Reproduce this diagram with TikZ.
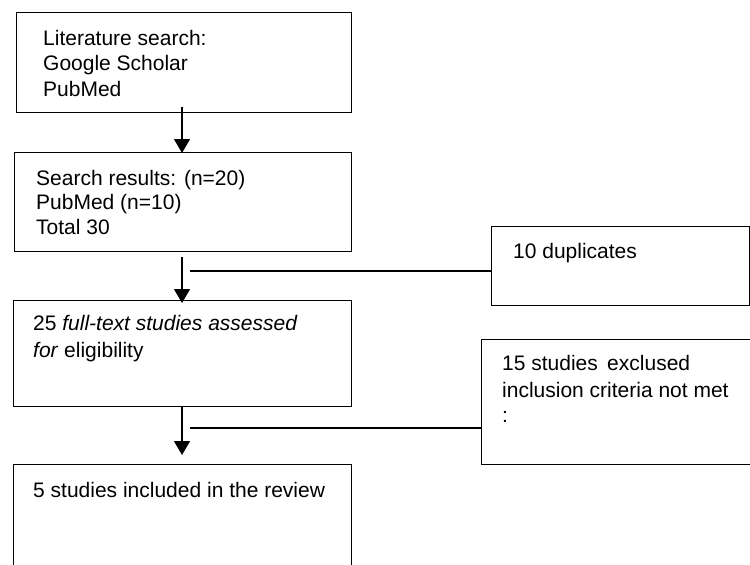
\documentclass[tikz,border=0pt]{standalone}
\usepackage{fontspec}
\setmainfont{Liberation Sans}
\usetikzlibrary{arrows.meta}
\newcommand{\mylines}[1]{\begin{tabular}[t]{@{}l@{}}#1\end{tabular}}
\tikzset{
  boxline/.style={draw=black, line width=1.3pt},
  txt/.style={anchor=base west, inner sep=0pt, font=\fontsize{21}{25.5}\selectfont},
  arr/.style={line width=1.3pt, -{Triangle[width=16pt,length=14pt]}},
  sideline/.style={line width=1.3pt},
}
\begin{document}
\begin{tikzpicture}[x=1pt,y=-1pt]
\useasboundingbox (0,0) rectangle (750,565);
\clip (0,0) rectangle (750,565);
% main boxes
\node[boxline, inner sep=0pt, minimum width=335pt, minimum height=100pt, anchor=north west] (b1) at (16,12) {};
\node[boxline, inner sep=0pt, minimum width=337pt, minimum height=99pt, anchor=north west] (b2) at (14,152) {};
\node[boxline, inner sep=0pt, minimum width=338pt, minimum height=106pt, anchor=north west] (b3) at (13,300) {};
\node[boxline, inner sep=0pt, minimum width=338pt, minimum height=120pt, anchor=north west] (b4) at (13,464) {};
% side boxes
\node[boxline, inner sep=0pt, minimum width=258pt, minimum height=79pt, anchor=north west] (dup) at (491,226) {};
\node[boxline, inner sep=0pt, minimum width=275pt, minimum height=125pt, anchor=north west] (exc) at (481,339) {};
% texts
\node[txt] (t1) at (43,45) {\mylines{Literature search:\\Google Scholar\\PubMed}};
\node[txt] (t2) at (36,185) {\mylines{Search results: (n=20)\\[-1pt]PubMed (n=10)\\[-1pt]Total 30}};
\node[txt] (t3) at (33,330) {\mylines{25 \textit{full-text studies assessed}\\[1.5pt]\textit{for} eligibility}};
\node[txt] (t4) at (33,497) {5 studies included in the review};
\node[txt] (t5) at (513,258) {10 duplicates};
\node[txt] (t6) at (502,370) {\mylines{15 studies\, exclused\\[1.5pt]inclusion criteria not met\\:}};
% arrows
\coordinate (a1s) at (182,107);
\coordinate (a1e) at (182,153);
\coordinate (a2s) at (182,257);
\coordinate (a2e) at (182,303);
\coordinate (a3s) at (182,406);
\coordinate (a3e) at (182,455);
\draw[arr] (a1s) -- (a1e);
\draw[arr] (a2s) -- (a2e);
\draw[arr] (a3s) -- (a3e);
% side connectors
\coordinate (s1) at (190,271);
\coordinate (s2) at (190,428);
\draw[sideline] (s1) -- (s1 -| dup.west);
\draw[sideline] (s2) -- (s2 -| exc.west);
\end{tikzpicture}
\end{document}
